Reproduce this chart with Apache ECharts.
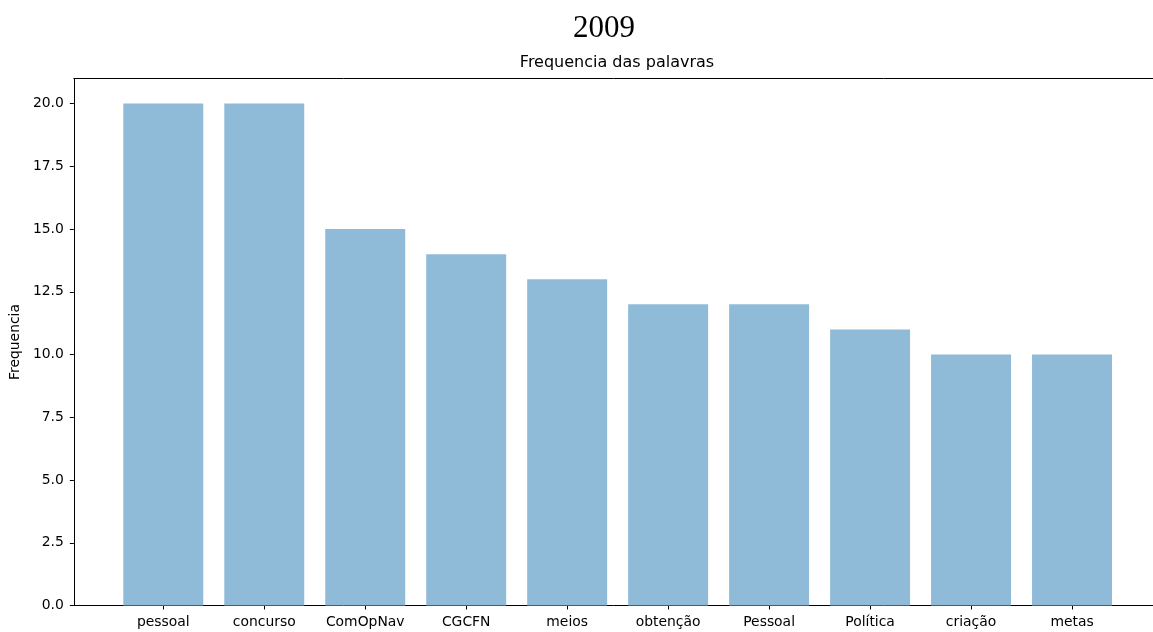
<!DOCTYPE html>
<html>
<head>
<meta charset="utf-8">
<script src="https://cdn.jsdelivr.net/npm/echarts@6/dist/echarts.min.js"></script>
<style>html,body{margin:0;padding:0;background:#fff;}#c{width:1153px;height:632px;}</style>
</head>
<body>
<div id="c"></div>
<script>
const categories = ['pessoal','concurso','ComOpNav','CGCFN','meios','obtenção','Pessoal','Política','criação','metas'];
const values = [20, 20, 15, 14, 13, 12, 12, 11, 10, 10];
const yTicks = [0, 2.5, 5, 7.5, 10, 12.5, 15, 17.5, 20];

const font = 'DejaVu Sans';
const chart = echarts.init(document.getElementById('c'));
chart.setOption({
  animation: false,
  backgroundColor: '#fff',
  title: [
    {text: '2009', left: 604, top: 13, textAlign: 'center', padding: 0,
     textStyle: {fontFamily: 'Liberation Serif', fontSize: 31, fontWeight: 'normal', color: '#000'}},
    {text: 'Frequencia das palavras', left: 617, top: 55, textAlign: 'center', padding: 0,
     textStyle: {fontFamily: font, fontSize: 16, fontWeight: 'normal', color: '#000'}}
  ],
  grid: [
    {left: 73.5, right: 0, top: 78.5, bottom: 26.5, containLabel: false},
    {left: 112.8, right: 30.5, top: 78.5, bottom: 26.5, containLabel: false}
  ],
  xAxis: [
    {type: 'value', gridIndex: 0, min: 0, max: 1, position: 'bottom',
     axisLine: {show: true, lineStyle: {color: '#000', width: 1}}, axisTick: {show: false},
     axisLabel: {show: false}, splitLine: {show: false}},
    {type: 'value', gridIndex: 0, min: 0, max: 1, position: 'top',
     axisLine: {show: true, lineStyle: {color: '#000', width: 1}}, axisTick: {show: false},
     axisLabel: {show: false}, splitLine: {show: false}},
    {type: 'category', gridIndex: 1, data: categories, position: 'bottom',
     axisLine: {show: false},
     axisTick: {show: true, alignWithLabel: true, length: 4, lineStyle: {color: '#000'}},
     axisLabel: {fontFamily: font, fontSize: 13.9, color: '#000', margin: 10, interval: 0},
     splitLine: {show: false}}
  ],
  yAxis: [
    {type: 'value', gridIndex: 0, min: 0, max: 21, interval: 2.5,
     name: 'Frequencia', nameLocation: 'middle', nameGap: 43, nameRotate: 90,
     nameTextStyle: {fontFamily: font, fontSize: 13.9, color: '#000'},
     axisLine: {show: true, lineStyle: {color: '#000', width: 1}},
     axisTick: {show: true, length: 4, lineStyle: {color: '#000'}},
     axisLabel: {fontFamily: font, fontSize: 13.9, color: '#000', margin: 10,
       showMaxLabel: false,
       formatter: v => yTicks.indexOf(v) >= 0 ? v.toFixed(1) : ''},
     splitLine: {show: false}},
    {type: 'value', gridIndex: 1, min: 0, max: 21, show: false, splitLine: {show: false}}
  ],
  series: [{
    type: 'bar', xAxisIndex: 2, yAxisIndex: 1, data: values,
    barWidth: '79.2%',
    itemStyle: {color: '#8fbbd9'}
  }]
});
</script>
</body>
</html>
